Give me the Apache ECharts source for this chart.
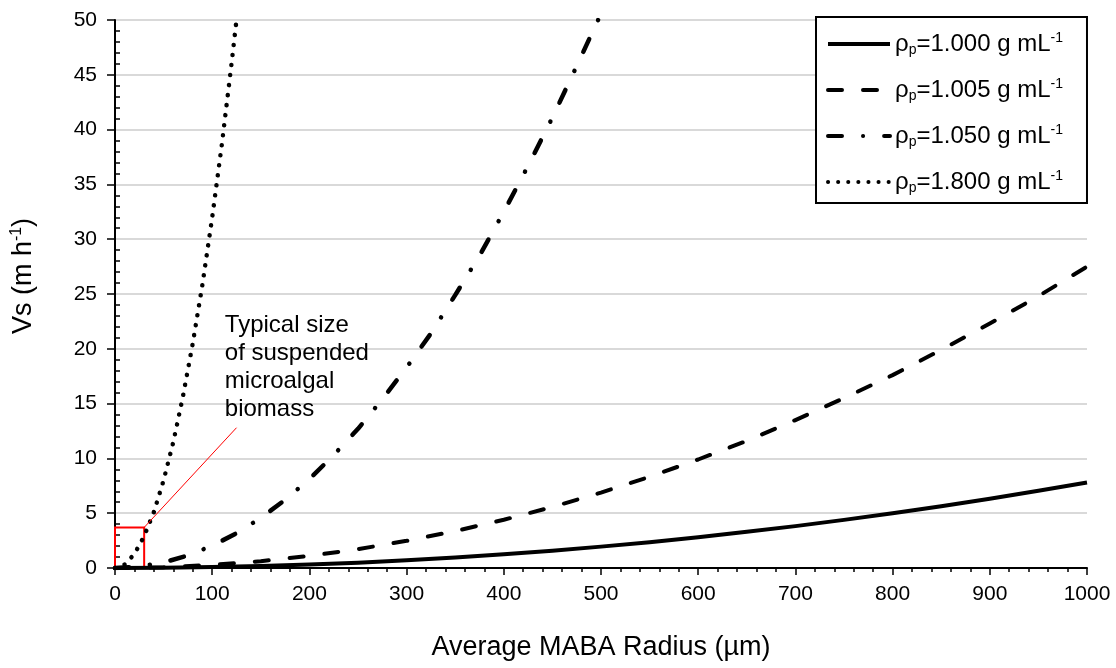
<!DOCTYPE html>
<html>
<head>
<meta charset="utf-8">
<script src="https://cdn.jsdelivr.net/npm/echarts@6/dist/echarts.min.js"></script>
<style>
  html, body { margin: 0; padding: 0; background: #fff; }
  #chart { width: 1116px; height: 668px; }
</style>
</head>
<body>
<div id="chart"></div>
<script>
// particle densities, g mL-1 (one curve each)
const densities = ['1.000', '1.005', '1.050', '1.800'];

// radius (µm) where each curve was read
const radiusLong  = [0, 50, 100, 150, 200, 250, 300, 350, 400, 450, 500, 550, 600, 650, 700, 750, 800, 850, 900, 950, 1000];
const radiusMid   = [0, 25, 50, 75, 100, 125, 150, 175, 200, 225, 250, 275, 300, 325, 350, 375, 400, 425, 450, 475, 497];
const radiusShort = [0, 10, 20, 30, 40, 50, 60, 70, 80, 90, 100, 110, 120, 125];

// settling velocity Vs (m h-1)
const vs1000 = [0, 0.02, 0.08, 0.18, 0.31, 0.49, 0.70, 0.96, 1.25, 1.58, 1.95, 2.36, 2.81, 3.30, 3.82, 4.39, 4.99, 5.64, 6.32, 7.04, 7.8];
const vs1005 = [0, 0.07, 0.28, 0.62, 1.1, 1.72, 2.48, 3.37, 4.4, 5.57, 6.88, 8.32, 9.9, 11.6, 13.5, 15.5, 17.6, 19.9, 22.3, 24.8, 27.5];
const vs1050 = [0, 0.13, 0.51, 1.14, 2.03, 3.17, 4.57, 6.22, 8.12, 10.3, 12.7, 15.4, 18.3, 21.4, 24.9, 28.5, 32.5, 36.7, 41.1, 45.8, 50.0];
const vs1800 = [0, 0.32, 1.28, 2.9, 5.1, 8.0, 11.5, 15.7, 20.5, 25.9, 32.0, 38.7, 46.1, 50.0];

// annotation: red box over typical size, leader line and note
const boxCorner = [30, 3.7];
const leaderEnd = [125, 12.8];
const noteAt = [113, 23.4];
const noteLines = ['Typical size', 'of suspended', 'microalgal', 'biomass'];

const font = '"Liberation Sans", Arial, sans-serif';

function pairs(xs, ys) {
  return xs.map((x, i) => [x, ys[i]]);
}

const curveX = [radiusLong, radiusLong, radiusMid, radiusShort];
const curveY = [vs1000, vs1005, vs1050, vs1800];
const curveStyle = [
  { type: 'solid', width: 4 },
  { type: [14, 21], width: 4, cap: 'round' },
  { type: [14, 21, 0.1, 21], width: 4.5, cap: 'round' },
  { type: [0.1, 10], width: 4.5, cap: 'round' }
];

const series = densities.map((d, i) => ({
  name: d,
  type: 'line',
  symbol: 'none',
  showSymbol: false,
  data: pairs(curveX[i], curveY[i]),
  lineStyle: Object.assign({ color: '#000', join: 'round' }, curveStyle[i]),
  itemStyle: { color: '#000' },
  z: 3
}));

// red box and leader line ride on the last series
series[3].markArea = {
  silent: true,
  label: { show: false },
  itemStyle: { color: 'rgba(0,0,0,0)', borderColor: '#ff0000', borderWidth: 2 },
  data: [[{ coord: [0, 0] }, { coord: boxCorner }]]
};
series[3].markLine = {
  silent: true,
  symbol: ['none', 'none'],
  label: { show: false },
  lineStyle: { color: '#ff0000', width: 1, type: 'solid' },
  data: [[{ coord: boxCorner }, { coord: leaderEnd }]]
};

const yBase = { type: 'value', min: 0, max: 50, interval: 5 };

const chart = echarts.init(document.getElementById('chart'));

chart.setOption({
  animation: false,
  backgroundColor: '#fff',
  grid: { left: 115, right: 29, top: 20, bottom: 100, containLabel: false, outerBoundsMode: 'none' },
  legend: {
    orient: 'vertical',
    left: 816,
    top: 17,
    itemWidth: 62,
    itemHeight: 14,
    itemGap: 20,
    padding: [14, 24, 8, 10],
    selectedMode: false,
    backgroundColor: '#fff',
    borderColor: '#000',
    borderWidth: 2,
    itemStyle: { opacity: 0 },
    lineStyle: { width: 4 },
    formatter: n => '{t|ρ}{b|p}{t|=' + n + ' g mL}{s|-1}',
    textStyle: {
      rich: {
        t: { fontFamily: font, fontSize: 24, lineHeight: 26, color: '#000' },
        b: { fontFamily: font, fontSize: 14, lineHeight: 14, verticalAlign: 'bottom', color: '#000' },
        s: { fontFamily: font, fontSize: 14, lineHeight: 14, verticalAlign: 'top', color: '#000' }
      }
    }
  },
  xAxis: {
    type: 'value',
    min: 0,
    max: 1000,
    interval: 100,
    name: 'Average MABA Radius (µm)',
    nameLocation: 'middle',
    nameGap: 66,
    nameTextStyle: { fontFamily: font, fontSize: 27, color: '#000' },
    axisLine: { lineStyle: { color: '#000', width: 2 } },
    axisTick: { show: true, length: 7, lineStyle: { color: '#000', width: 1.5 } },
    minorTick: { show: true, splitNumber: 5, length: 4, lineStyle: { color: '#000', width: 1.5 } },
    axisLabel: { fontFamily: font, fontSize: 21, color: '#000', margin: 16, formatter: v => String(v) },
    splitLine: { show: false }
  },
  yAxis: [
    Object.assign({}, yBase, {
      name: '{t|Vs (m h}{s|-1}{t|)}',
      nameLocation: 'middle',
      nameGap: 76,
      nameTextStyle: {
        padding: [0, 0, 0, 36],
        rich: {
          t: { fontFamily: font, fontSize: 27, lineHeight: 30, color: '#000' },
          s: { fontFamily: font, fontSize: 16, lineHeight: 16, verticalAlign: 'top', color: '#000' }
        }
      },
      axisLine: { show: true, lineStyle: { color: '#000', width: 2 } },
      axisTick: { show: true, length: 8, lineStyle: { color: '#000', width: 1.5 } },
      minorTick: { show: false },
      axisLabel: { fontFamily: font, fontSize: 21, color: '#000', margin: 18 },
      splitLine: { show: true, lineStyle: { color: '#d9d9d9', width: 2 } }
    }),
    // minor ticks of the value axis sit inside the plot
    Object.assign({}, yBase, {
      position: 'left',
      axisLine: { show: false },
      axisTick: { show: false, inside: true },
      minorTick: { show: true, splitNumber: 5, length: 5, lineStyle: { color: '#000', width: 1.5 } },
      axisLabel: { show: false },
      splitLine: { show: false }
    })
  ],
  series: series
});

// note text, placed at its data position
const notePx = chart.convertToPixel({ gridIndex: 0 }, noteAt);
chart.setOption({
  graphic: [{
    type: 'text',
    x: notePx[0],
    y: notePx[1],
    silent: true,
    style: {
      text: noteLines.join('\n'),
      fontFamily: font,
      fontSize: 24,
      lineHeight: 28,
      fill: '#000',
      verticalAlign: 'top'
    }
  }]
});
</script>
</body>
</html>
